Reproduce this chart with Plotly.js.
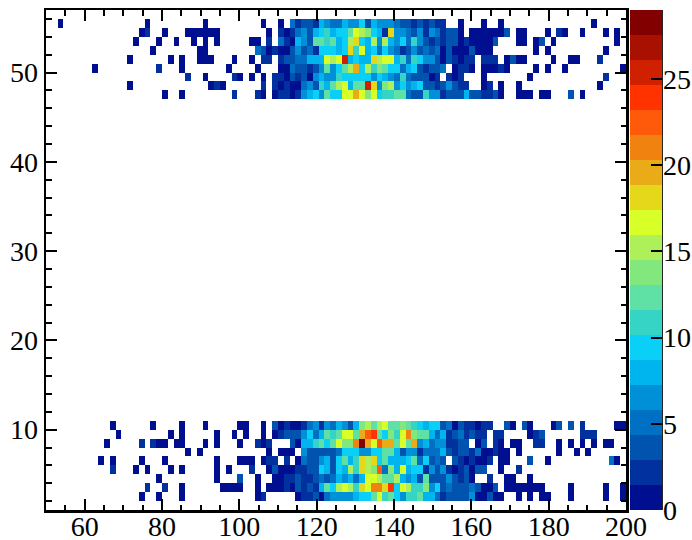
<!DOCTYPE html>
<html>
<head>
<meta charset="utf-8">
<script src="https://cdn.plot.ly/plotly-3.0.1.min.js"></script>
<style>html,body{margin:0;padding:0;background:#fff}#c{width:692px;height:540px}</style>
</head>
<body>
<div id="c"></div>
<script>
const row55=[0,0,1,0,0,0,0,0,0,0, 0,0,0,0,0,0,0,1,0,0, 0,0,0,0,0,0,0,1,0,0, 0,0,0,0,0,0,0,1,0,0, 1,0,5,2,3,3,2,8,6,5, 5,8,6,6,9,3,8,6,6,6, 5,3,3,2,3,2,3,2,2,0, 0,1,0,0,0,1,0,0,1,0, 0,0,0,0,0,0,0,0,0,0, 0,0,0,0,1,0,0,0,0,0];
const row54=[0,0,0,0,0,0,0,0,0,0, 0,0,0,0,0,0,1,2,0,0, 1,0,0,0,1,1,1,1,1,1, 0,0,0,0,0,0,0,0,1,0, 2,1,2,5,6,3,8,9,11,8, 9,9,12,16,15,14,9,8,2,18, 6,6,5,3,6,2,6,5,2,3, 3,1,0,1,1,1,1,1,1,3, 0,1,1,0,0,0,1,0,2,1, 0,0,1,0,0,0,1,0,1,0];
const row53=[0,0,0,0,0,0,0,0,0,0, 0,0,0,0,0,1,0,0,0,1, 0,0,1,0,0,1,0,1,0,1, 0,0,0,0,0,1,1,0,2,0, 5,2,1,8,6,3,12,12,11,12, 8,9,15,18,9,8,15,6,15,8, 6,9,5,11,6,3,2,3,2,3, 3,1,2,1,1,1,1,3,0,0, 0,1,1,0,1,3,0,1,0,0, 0,0,0,0,0,0,0,0,1,0];
const row52=[0,0,0,0,0,0,0,0,0,0, 0,0,0,0,0,0,0,0,1,0, 0,0,0,0,0,0,1,1,0,0, 0,0,0,0,0,0,5,3,1,2, 1,1,3,6,3,5,2,9,9,9, 8,9,18,11,16,8,9,5,9,6, 5,2,3,6,3,5,3,5,1,3, 1,1,1,3,1,1,1,0,0,0, 0,0,0,0,1,0,1,0,0,0, 0,0,0,0,0,0,1,0,0,0];
const row51=[0,0,0,0,0,0,0,0,0,0, 0,0,0,0,1,0,0,0,0,0, 0,1,0,1,0,0,1,1,1,0, 0,0,1,0,0,1,0,2,2,0, 2,3,3,5,5,8,8,8,16,15, 16,25,8,9,8,8,18,15,16,16, 8,11,5,11,9,6,6,3,1,3, 2,1,2,2,0,2,2,2,0,1, 3,1,1,0,0,0,0,1,0,0, 1,1,0,0,0,2,0,0,0,0];
const row50=[0,0,0,0,0,0,0,0,1,0, 0,0,0,0,0,0,0,0,0,2, 0,0,0,1,0,0,0,0,0,0, 0,1,0,0,0,0,1,0,0,0, 1,1,5,3,3,2,3,6,12,6, 9,12,15,19,9,15,11,14,12,9, 9,5,8,9,3,2,3,3,5,0, 1,2,2,1,0,1,1,1,2,1, 0,0,0,0,1,0,1,0,0,1, 0,0,0,0,0,0,0,0,0,1];
const row49=[0,0,0,0,0,0,0,0,0,0, 0,0,0,0,0,0,0,0,0,0, 0,0,0,0,2,0,0,1,0,0, 0,0,2,1,0,1,0,1,0,2, 2,1,3,2,3,1,6,8,6,6, 11,9,9,9,9,9,6,9,8,6, 5,11,5,3,3,3,1,2,0,2, 1,2,0,0,0,1,0,0,0,0, 0,0,0,1,0,0,0,0,0,0, 0,0,0,0,0,0,2,0,0,0];
const row48=[0,0,0,0,0,0,0,0,0,0, 0,0,0,0,1,0,0,0,0,0, 0,0,0,0,0,0,0,0,1,2, 1,0,0,0,0,0,0,2,0,2, 1,2,1,1,5,6,3,11,8,12, 15,16,8,12,12,25,18,6,14,15, 6,9,6,8,9,3,3,2,3,6, 3,2,2,0,0,1,2,0,1,0, 0,1,0,0,0,0,0,0,0,0, 0,0,0,0,0,1,0,0,0,0];
const row47=[0,0,0,0,0,0,0,0,0,0, 0,0,0,0,0,0,0,0,0,0, 1,0,0,1,0,0,0,0,0,0, 0,0,2,0,0,0,2,1,0,1, 2,2,1,2,6,8,9,6,12,9, 9,16,16,19,16,14,16,9,11,11, 12,12,5,3,3,11,6,6,2,3, 3,3,8,3,3,2,2,3,1,0, 0,1,1,1,0,1,1,0,0,0, 3,0,1,0,0,0,0,0,0,0];
const row10=[0,0,0,0,0,0,0,0,0,0, 0,1,0,0,0,0,0,0,1,0, 0,0,0,1,0,0,0,1,0,0, 0,0,0,1,1,0,0,1,0,3, 1,2,1,1,2,5,6,2,6,5, 8,6,3,8,14,15,12,15,16,12, 12,14,12,11,9,8,9,9,3,5, 1,3,2,2,1,2,2,0,0,3, 1,0,3,1,0,0,0,1,3,0, 3,0,2,0,0,0,0,0,1,1];
const row9=[0,0,0,0,0,0,0,0,0,0, 0,0,1,0,0,0,0,0,0,0, 0,1,0,1,0,0,0,0,0,1, 0,0,1,0,1,0,0,1,0,1, 2,3,3,3,6,9,5,8,12,11, 12,16,16,12,19,22,24,12,9,14, 11,16,21,14,12,12,8,5,8,2, 3,5,2,3,2,2,0,2,2,0, 0,0,0,1,2,3,0,0,0,0, 0,0,2,2,2,0,0,0,0,0];
const row8=[0,0,0,0,0,0,0,0,0,0, 1,0,0,0,0,0,2,0,2,1, 1,0,1,1,0,0,0,1,0,1, 0,0,0,1,0,0,2,1,2,0, 0,0,3,1,8,8,11,12,9,12, 16,14,14,21,28,19,16,22,19,19, 12,16,12,19,6,8,5,6,6,2, 2,3,3,0,1,3,0,2,1,0, 1,1,0,0,2,2,0,0,1,0, 1,0,1,0,1,0,1,1,0,0];
const row7=[0,0,0,0,0,0,0,0,0,0, 0,0,0,0,0,0,0,0,0,0, 0,0,0,0,1,0,1,0,0,0, 0,0,0,0,0,0,0,0,1,0, 1,1,1,0,6,3,3,3,3,3, 5,9,9,9,6,6,9,9,12,12, 8,3,6,6,2,5,5,5,8,3, 2,3,3,2,5,1,1,2,1,1, 0,1,0,0,0,0,0,0,1,0, 0,1,0,1,0,0,0,0,0,0];
const row6=[0,0,0,0,0,0,0,0,0,1, 0,1,0,0,0,0,1,0,0,0, 1,0,0,0,0,0,0,0,0,1, 0,0,0,1,1,1,0,1,2,2, 0,2,0,1,5,3,3,6,8,3, 9,12,8,11,18,15,18,9,12,8, 8,8,9,12,5,9,3,5,3,0, 3,2,1,2,1,1,2,0,1,1, 0,0,0,3,0,0,1,0,0,0, 0,0,0,0,0,0,0,5,1,0];
const row5=[0,0,0,0,0,0,0,0,0,0, 0,2,0,0,0,1,0,1,0,0, 0,1,0,1,0,0,0,0,0,1, 0,1,0,0,0,2,0,0,1,3, 1,1,1,2,2,3,3,9,8,3, 9,8,15,11,18,15,14,22,5,14, 8,16,8,9,9,2,6,3,6,2, 1,2,3,1,3,3,0,0,1,0, 0,2,0,0,0,0,0,0,0,0, 0,0,0,0,0,0,0,0,0,0];
const row4=[0,0,0,0,0,0,0,0,0,0, 0,0,0,0,0,0,0,0,0,1, 0,0,0,0,0,0,0,0,0,1, 0,0,0,3,0,0,1,0,0,1, 1,2,2,3,2,2,3,5,3,5, 8,6,8,5,8,16,16,15,12,12, 15,8,6,8,3,12,3,3,3,6, 3,2,3,1,0,0,2,0,0,1, 1,0,0,1,0,0,0,0,0,0, 0,0,0,0,0,0,0,0,0,0];
const row3=[0,0,0,0,0,0,0,0,0,0, 0,0,0,0,0,0,0,2,0,0, 2,0,0,1,0,0,0,0,0,0, 1,1,1,1,0,0,1,0,1,1, 1,2,1,3,2,3,2,8,12,9, 15,16,15,11,18,16,21,21,18,24, 9,16,15,11,11,14,6,9,3,5, 3,3,3,5,3,1,1,3,0,1, 1,1,1,1,1,1,0,0,0,0, 1,0,0,0,0,0,1,0,0,1];
const row2=[0,0,0,0,0,0,0,0,0,0, 0,0,0,0,0,0,1,0,0,1, 0,0,0,1,0,0,0,0,0,0, 0,0,0,0,0,0,1,2,0,0, 0,0,0,1,2,2,3,1,5,6, 6,6,6,8,9,9,12,16,11,12, 9,6,11,11,12,8,8,5,2,3, 3,3,3,6,1,1,3,1,1,0, 0,1,0,1,0,1,1,0,0,0, 1,0,0,0,0,0,1,0,0,1];

const filledRows={2:row2,3:row3,4:row4,5:row5,6:row6,7:row7,8:row8,9:row9,10:row10,
  47:row47,48:row48,49:row49,50:row50,51:row51,52:row52,53:row53,54:row54,55:row55};
const paletteColors=['#000f8f','#00319f','#0054b0','#0070c4','#0090d8','#00b4ee','#0ad0f8','#36d4c4','#5fe0a5','#82e87e','#aef05a','#d8ff28','#e5d81a','#eaab18','#f0820f','#ff5a0a','#ff3200','#cf2000','#a81000','#820000'];
const zMax=29, yMin=1, yMax=57, xMin=50, xMax=200, binWidth=1.5;

const xEdges=[]; for(let i=0;i<=100;i++) xEdges.push(xMin+i*binWidth);
const yEdges=[]; for(let y=yMin;y<=yMax;y++) yEdges.push(y);
const z=[];
for(let y=yMin;y<yMax;y++){
  const r=filledRows[y];
  z.push(xEdges.slice(1).map((_,i)=> r && r[i]>0 ? r[i] : null));
}
const colorscale=[];
paletteColors.forEach((c,i)=>{colorscale.push([i/20,c]);colorscale.push([(i+1)/20,c]);});

const W=692,H=540,L=45.7,R=626,T=9.5,B=510;
const pw=R-L;
const fontSpec={family:'"Liberation Serif",serif',size:28,color:'#000'};
const axisBase={showgrid:false,zeroline:false,showline:true,linecolor:'#000',linewidth:2.5,mirror:'ticks',
  ticks:'inside',ticklen:11,tickwidth:2,tickcolor:'#000',tickfont:fontSpec,
  minor:{ticks:'inside',ticklen:5.5,tickwidth:2,tickcolor:'#000',showgrid:false}};

Plotly.newPlot('c',[{
  type:'heatmap',x:xEdges,y:yEdges,z:z,zmin:0,zmax:zMax,colorscale:colorscale,hoverongaps:false,
  colorbar:{x:(630-L)/pw,xanchor:'left',y:0.5,yanchor:'middle',len:1,lenmode:'fraction',thickness:32,thicknessmode:'pixels',
    xpad:0,ypad:0,outlinewidth:0,ticks:'inside',ticklen:11,tickwidth:2,tickcolor:'#000',tick0:0,dtick:5,
    tickfont:fontSpec,tickmode:'linear'}
}],{
  width:W,height:H,margin:{l:L,r:W-R,t:T,b:H-B,pad:0,autoexpand:false},
  paper_bgcolor:'#fff',plot_bgcolor:'#fff',
  xaxis:Object.assign({},axisBase,{range:[xMin,xMax],dtick:20,tick0:0,ticklabelstandoff:-10,automargin:false,minor:Object.assign({},axisBase.minor,{dtick:5})}),
  yaxis:Object.assign({},axisBase,{range:[yMin,yMax],dtick:10,tick0:0,automargin:false,minor:Object.assign({},axisBase.minor,{dtick:2})}),
  shapes:[{type:'line',xref:'paper',yref:'paper',x0:(662-L)/pw,x1:(662-L)/pw,y0:0,y1:1,line:{color:'#222',width:2}}]
},{displayModeBar:false,staticPlot:true}).then(function(gd){
  gd.querySelectorAll('.colorbar text').forEach(function(t){
    t.setAttribute('transform','translate(-5,0) '+(t.getAttribute('transform')||''));
  });
});
</script>
</body>
</html>
